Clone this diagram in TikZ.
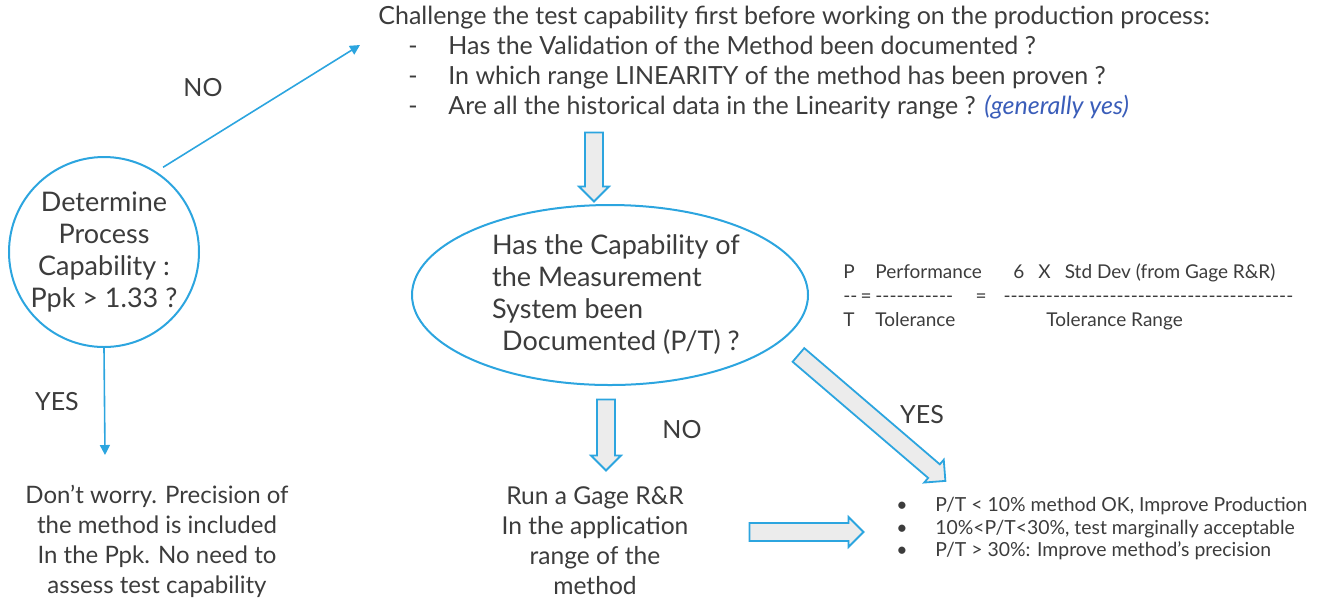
\documentclass[tikz,border=0pt]{standalone}
\usepackage{fontspec}
\setmainfont{Lato}
\usepackage{tikz}
\usetikzlibrary{calc,arrows.meta,shapes.geometric,shapes.arrows}
\definecolor{skyline}{HTML}{2CA5DF}
\definecolor{inkgray}{HTML}{3C3C3C}
\definecolor{paleg}{HTML}{ECECEC}
\definecolor{linkblue}{HTML}{3A5DB9}
\newcommand{\fatarrow}[2]{\path let \p1=($(#2)-(#1)$), \n1={atan2(\y1,\x1)}, \n2={veclen(\x1,\y1)} in node[fat,minimum height=\n2,rotate=\n1] at ($(#1)!0.5!(#2)$) {};}
\newcommand{\hyph}[1]{\foreach \k in {1,...,#1}{-}}

\begin{document}
\begin{tikzpicture}[x=0.5pt,y=-0.5pt,
  every node/.style={text=inkgray,inner sep=0pt},
  lbl/.style={font=\fontsize{12.5}{15}\selectfont},
  txt/.style={font=\fontsize{12}{15}\selectfont,align=center},
  wire/.style={draw=skyline,line width=0.8pt,-{Triangle[length=5pt,width=5pt]}},
  fat/.style={single arrow,draw=skyline,fill=paleg,line width=0.9pt,inner xsep=0pt,inner ysep=4pt,minimum width=15pt,single arrow head extend=3pt,single arrow head indent=0pt}]
\useasboundingbox (0,0) rectangle (1320,601);
% decision on Ppk
\node[circle,draw=skyline,line width=1pt,minimum size=95pt,align=center,font=\fontsize{13.5}{16}\selectfont] (ppk) at (104,252) {Determine\\Process\\Capability :\\Ppk > 1.33 ?};
\coordinate (nohead) at (360,45);
\coordinate (yeshead) at (105,455);
\draw[wire,shorten <=4pt] (ppk.57) -- (nohead);
\draw[wire] (ppk.south) -- (yeshead);
\node[lbl] (nolbl) at (203,88) {NO};
\node[lbl] (yeslbl) at (57,402) {YES};
\node[txt] (worry) at (157,541) {Don’t worry. Precision of\\the method is included\\In the Ppk. No need to\\assess test capability};
% test capability questions
\node[anchor=north west,align=left,font=\fontsize{12.5}{15}\selectfont] (chal) at (378,6) {Challenge the test capability first before working on the production process:\\
\makebox[35pt][l]{\hspace{15pt}-}Has the Validation of the Method been documented ?\\
\makebox[35pt][l]{\hspace{15pt}-}In which range LINEARITY of the method has been proven ?\\
\makebox[35pt][l]{\hspace{15pt}-}Are all the historical data in the Linearity range ? {\color{linkblue}\itshape (generally yes)}};
% measurement system
\node[ellipse,draw=skyline,line width=1pt,minimum width=198pt,minimum height=90pt,align=left,font=\fontsize{13.5}{16}\selectfont] (msa) at (610,295) {\hspace*{6pt}Has the Capability of\\\hspace*{6pt}the Measurement\\\hspace*{6pt}System been\\\hspace*{11pt}Documented (P/T) ?};
\node[anchor=north west,align=left,font=\fontsize{9.5}{12}\selectfont] (ratio) at (843,263) {\makebox[16pt][l]{P}\makebox[69pt][l]{Performance}6\hspace{7pt}X\hspace{7pt}Std Dev (from Gage R\&R)\\
\makebox[16pt][l]{\hyph{2}\,=}\makebox[50pt][l]{\hyph{11}}\makebox[14pt][l]{=}\hyph{41}\\
\makebox[16pt][l]{T}\makebox[85.5pt][l]{Tolerance}Tolerance Range};
\node[txt,font=\fontsize{12.3}{15}\selectfont] (gage) at (595,541) {Run a Gage R\&R\\In the application\\range of the\\method};
\node[lbl] (nolbl2) at (682,430) {NO};
\node[lbl] (yeslbl2) at (922,415) {YES};
\node[anchor=west,align=left,font=\fontsize{9.7}{11.25}\selectfont] (verdict) at (896,529) {\makebox[19.5pt][l]{\textbullet}P/T < 10\% method OK, Improve Production\\
\makebox[19.5pt][l]{\textbullet}10\%<P/T<30\%, test marginally acceptable\\
\makebox[19.5pt][l]{\textbullet}P/T > 30\%: Improve method’s precision};
% hollow arrows
\coordinate (a1s) at (594,128); \coordinate (a1e) at (594,197);
\coordinate (a2s) at (606,395); \coordinate (a2e) at (606,466);
\coordinate (a3s) at (745,532); \coordinate (a3e) at (859,532);
\coordinate (a4s) at (795,352); \coordinate (a4e) at (942,478);
\fatarrow{a1s}{a1e}
\fatarrow{a2s}{a2e}
\fatarrow{a3s}{a3e}
\fatarrow{a4s}{a4e}
\end{tikzpicture}
\end{document}
